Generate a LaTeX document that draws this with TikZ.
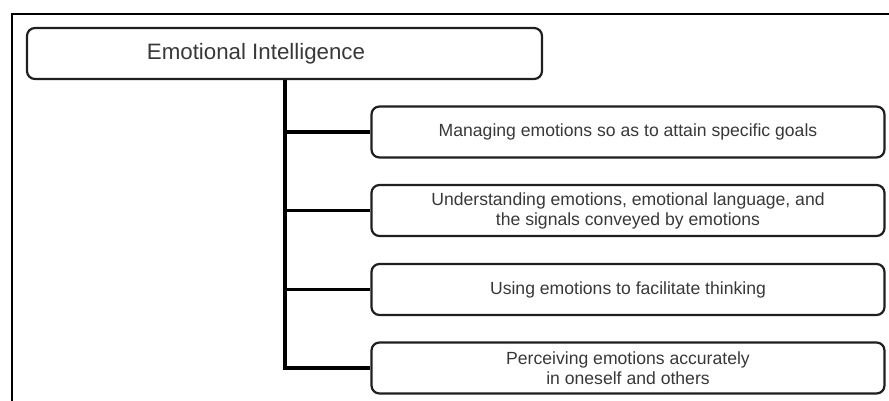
\documentclass[tikz,border=0pt]{standalone}
\usepackage{fontspec}
\setmainfont{Liberation Sans}
\begin{document}
\begin{tikzpicture}[x=1pt,y=1pt,
  itembox/.style={draw=black!88, line width=2.2pt, rounded corners=8pt,
    minimum width=513pt, minimum height=51pt, inner sep=0pt, align=center,
    text=black!78, font=\fontsize{17.6}{20}\selectfont},
  link/.style={draw=black, line width=3.8pt},
  frame/.style={draw=black, line width=2.8pt}]
\useasboundingbox (0,0) rectangle (889,-401);
% outer frame (partial)
\draw[frame] (12,-402) -- (12,-14) -- (890,-14);
% title box
\node[itembox, minimum width=515pt] (title) at (284.5,-53.5) {};
\node[text=black!78, font=\fontsize{22.3}{24}\selectfont, inner sep=0pt] (titletext) at (256,-53.5) {Emotional Intelligence};
% item boxes
\node[itembox] (b1) at (628,-132) {Managing emotions so as to attain specific goals};
\node[itembox] (b2) at (628,-210.5) {Understanding emotions, emotional language, and\\the signals conveyed by emotions};
\node[itembox] (b3) at (628,-289.5) {Using emotions to facilitate thinking};
\node[itembox] (b4) at (628,-368) {Perceiving emotions accurately\\in oneself and others};
% connectors
\coordinate (top) at (285,-80);
\coordinate (bot) at (285,-368);
\draw[link] (top) -- ([yshift=-1.9pt]bot);
\draw[link] (285,-132) -- (b1.west);
\draw[link] (285,-210.5) -- (b2.west);
\draw[link] (285,-289.5) -- (b3.west);
\draw[link] ([xshift=-1.9pt]bot) -- (b4.west);
\end{tikzpicture}
\end{document}
